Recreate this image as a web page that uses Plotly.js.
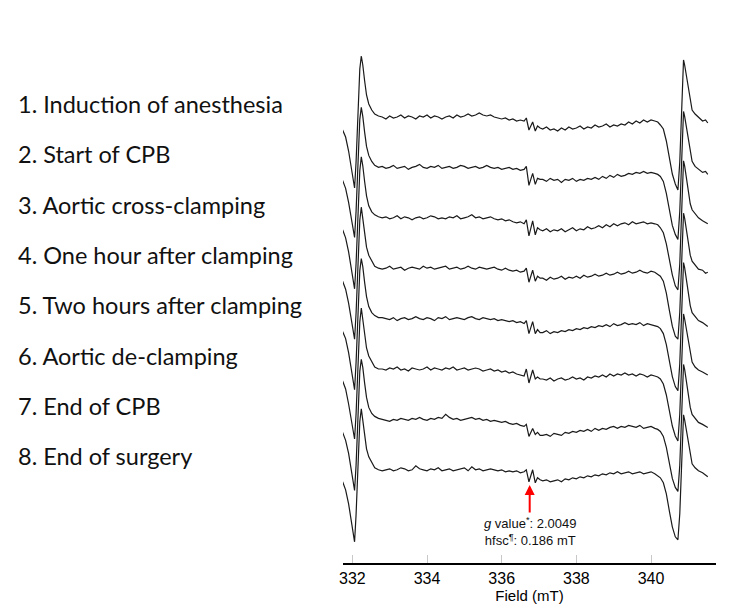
<!DOCTYPE html>
<html>
<head>
<meta charset="utf-8">
<script src="https://cdn.plot.ly/plotly-3.0.1.min.js"></script>
<style>html,body{margin:0;padding:0;background:#fff;}#chart{width:750px;height:607px;}</style>
</head>
<body>
<div id="chart"></div>
<script>
// Magnetic field sample positions (mT)
const fieldMT = [
  331.74,331.82,331.90,331.98,332.03,332.06,332.10,332.14,332.20,332.24,332.28,332.33,332.38,332.44,332.52,332.60,332.70,
  332.8,332.9,333.0,333.1,333.2,333.3,333.4,333.5,333.6,333.7,333.8,333.9,334.0,334.1,334.2,334.3,334.4,334.5,334.6,334.7,
  334.8,334.9,335.0,335.1,335.2,335.3,335.4,335.5,335.6,335.7,335.8,335.9,336.0,336.1,336.2,336.3,336.4,336.5,336.6,
  336.66,336.73,336.83,336.90,336.96,337.03,
  337.1,337.2,337.3,337.4,337.5,337.6,337.7,337.8,337.9,338.0,338.1,338.2,338.3,338.4,338.5,338.6,338.7,338.8,338.9,339.0,
  339.1,339.2,339.3,339.4,339.5,339.6,339.7,339.8,339.9,340.0,340.1,
  340.18,340.25,340.33,340.41,340.49,340.57,340.65,340.72,340.77,340.81,340.85,340.87,340.90,340.94,341.00,341.05,341.10,341.18,341.27,341.38,341.46,341.52
];

const stageLabels = [
  "1. Induction of anesthesia",
  "2. Start of CPB",
  "3. Aortic cross-clamping",
  "4. One hour after clamping",
  "5. Two hours after clamping",
  "6. Aortic de-clamping",
  "7. End of CPB",
  "8. End of surgery"
];

// EPR signal intensity (a.u.) for each stage
const sig1 = [
  -13,-20,-34,-52,-66,-71,-45,0,48,61,52,36,22,13,7,3,1,
  0,-2,1,-1,0,2,-1,1,0,-2,1,0,2,-1,1,0,-2,0,1,-1,2,0,1,3,1,2,4,2,1,2,0,-1,-2,-1,-3,-2,-4,-3,-4,
  -1,-13,-5,-14,-9,-11,
  -12,-10,-13,-12,-14,-11,-13,-10,-12,-11,-9,-12,-10,-11,-8,-10,-9,-7,-10,-8,-9,-7,-8,-5,-7,-4,-6,-3,-5,-3,-4,
  -5,-8,-12,-24,-41,-57,-67,-73,-45,5,45,57,52,43,27,14,7,3,0,-4,-3,-6
];
const sig2 = [
  -13,-21,-35,-53,-66,-70,-44,1,48,60,51,35,21,12,6,2,0,
  1,-1,0,2,-1,0,1,-2,0,1,3,0,-1,1,0,2,-1,0,1,-1,0,2,1,-1,0,1,-1,0,2,0,-1,0,-2,-1,0,-2,-1,-3,-2,
  1,-18,-6,-17,-11,-12,
  -12,-14,-11,-13,-12,-15,-12,-13,-11,-14,-12,-13,-11,-12,-10,-12,-9,-11,-8,-10,-7,-9,-8,-6,-7,-5,-6,-4,-6,-5,-6,
  -7,-9,-14,-26,-43,-58,-67,-72,-44,4,44,56,51,42,26,13,6,1,-2,-5,-4,-7
];
const sig3 = [
  -12,-20,-34,-52,-65,-71,-46,0,47,61,52,36,22,12,6,3,1,
  0,1,-1,0,2,-1,1,0,-2,0,1,-1,0,2,1,-1,0,-1,1,0,2,-1,0,1,3,0,1,-1,0,1,-1,-2,-1,-3,-2,-4,-5,-4,-6,
  -2,-18,-3,-17,-10,-12,
  -13,-11,-14,-12,-13,-11,-14,-12,-10,-13,-11,-12,-9,-11,-10,-8,-10,-7,-9,-6,-8,-6,-5,-7,-4,-6,-5,-4,-6,-5,-6,
  -7,-10,-15,-26,-42,-57,-68,-72,-46,3,45,57,52,42,27,14,8,4,0,-3,-5,-6
];
const sig4 = [
  -13,-21,-35,-52,-66,-71,-45,0,48,61,51,35,21,13,7,2,0,
  -1,0,2,-1,0,1,-2,0,1,0,-1,2,0,1,-1,0,1,2,-1,0,1,-1,0,2,0,-1,1,0,-1,0,1,-1,-2,0,-2,-3,-2,-4,-3,
  0,-14,-2,-13,-8,-10,
  -10,-12,-9,-11,-10,-8,-11,-9,-10,-8,-10,-7,-9,-8,-6,-8,-7,-5,-7,-6,-4,-6,-5,-3,-5,-4,-2,-4,-5,-3,-4,
  -6,-8,-13,-25,-42,-58,-68,-71,-44,4,44,55,50,41,25,13,7,3,-1,-2,-5,-4
];
const sig5 = [
  -13,-20,-34,-53,-67,-71,-44,1,48,60,52,36,22,12,6,3,1,
  1,0,-1,1,-2,0,1,-1,0,2,0,-1,1,0,-2,1,0,2,-1,0,1,0,-1,1,2,0,-1,1,0,-1,0,-2,-1,-2,-3,-2,-4,-3,-5,
  -2,-15,-3,-15,-11,-14,
  -14,-12,-15,-13,-14,-12,-13,-11,-12,-10,-11,-9,-10,-8,-9,-7,-8,-6,-8,-5,-7,-6,-4,-6,-5,-6,-4,-7,-5,-6,-7,
  -8,-10,-15,-26,-43,-58,-68,-72,-45,4,44,56,51,41,26,13,6,2,-2,-4,-6,-8
];
const sig6 = [
  -12,-20,-35,-52,-66,-70,-45,0,47,61,51,35,21,13,7,2,0,
  0,-1,1,0,2,-1,0,-2,1,0,-1,0,2,-1,1,0,-1,1,0,2,-1,0,1,-1,0,1,0,-2,-1,0,-2,-1,-3,-2,-4,-3,-5,-6,-7,
  0,-14,-1,-10,-8,-10,
  -10,-11,-9,-12,-10,-9,-11,-10,-8,-10,-9,-11,-8,-9,-7,-8,-6,-8,-5,-7,-5,-6,-4,-6,-5,-7,-5,-6,-8,-6,-7,
  -8,-10,-15,-26,-42,-57,-67,-72,-45,4,44,55,50,41,26,14,7,2,-1,-3,-5,-6
];
const sig7 = [
  -13,-21,-34,-52,-66,-71,-46,0,48,60,52,36,22,12,6,3,1,
  0,-1,-2,0,-1,1,0,-1,1,0,2,0,-1,1,0,2,1,5,2,0,1,-1,0,1,2,0,1,-1,0,-2,-1,-2,-3,-2,-4,-5,-4,-6,-7,
  -5,-17,-9,-15,-13,-16,
  -16,-15,-17,-14,-15,-16,-13,-14,-12,-13,-11,-12,-10,-12,-9,-11,-9,-10,-8,-7,-9,-7,-8,-6,-7,-8,-6,-9,-8,-7,-9,
  -10,-12,-17,-28,-44,-59,-68,-72,-46,3,43,55,50,40,25,12,5,1,-3,-5,-7,-8
];
const sig8 = [
  -12,-20,-34,-53,-67,-72,-45,0,48,61,51,35,21,13,7,2,0,
  -1,0,1,-1,0,2,1,-1,0,4,1,0,-1,1,0,2,-1,0,1,-1,0,1,2,-1,3,0,1,-1,0,1,0,-1,0,-2,-1,-2,-1,-3,-2,
  0,-12,0,-13,-8,-10,
  -11,-10,-12,-11,-10,-12,-9,-10,-8,-9,-7,-8,-6,-7,-5,-6,-4,-5,-3,-4,-2,-4,-3,-2,-4,-3,-2,-4,-3,-2,-4,
  -6,-8,-13,-24,-41,-57,-67,-70,-44,4,43,55,50,41,26,13,6,2,-1,-3,-5,-7
];

const gValueField = 336.75;   // radical signal position (mT)
const gValueText = "<i>g</i> value<sup>*</sup>: 2.0049";
const hfscText = "hfsc<sup>¶</sup>: 0.186 mT";
const xTicks = [332, 334, 336, 338, 340];

const signals = [sig1, sig2, sig3, sig4, sig5, sig6, sig7, sig8];
const STACK = 50.4; // vertical spacing between stacked spectra
const traces = signals.map((s, i) => ({
  type: 'scatter', mode: 'lines',
  x: fieldMT,
  y: s.map(v => v - STACK * i),
  line: {color: '#1a1a1a', width: 1.2},
  hoverinfo: 'skip', showlegend: false
}));

const annotations = stageLabels.map((t, i) => ({
  xref: 'paper', yref: 'paper',
  x: -0.877, y: (563 - (104 + 50.3 * i)) / 523,
  xanchor: 'left', yanchor: 'middle',
  text: t, showarrow: false,
  font: {family: 'Lato, Noto Sans, sans-serif', size: 23.5, color: '#111'}
}));
annotations.push({
  xref: 'x', yref: 'y', x: gValueField, y: -368,
  ax: 0, ay: 29, text: '', showarrow: true,
  arrowhead: 2, arrowsize: 1, arrowwidth: 2, arrowcolor: '#ff0000'
});
annotations.push({
  xref: 'x', yref: 'paper', x: gValueField, y: (563 - 531) / 523,
  xanchor: 'center', yanchor: 'middle', showarrow: false,
  text: gValueText + '<br>' + hfscText, align: 'center',
  font: {family: 'Liberation Sans, Arial, sans-serif', size: 13, color: '#111'}
});

const layout = {
  width: 750, height: 607,
  margin: {l: 343, r: 34, t: 40, b: 44},
  paper_bgcolor: '#fff', plot_bgcolor: '#fff',
  xaxis: {
    range: [331.75, 341.74], tickvals: xTicks, ticktext: xTicks.map(String),
    ticks: 'inside', ticklen: 8, tickcolor: '#c8c8c8', tickwidth: 1,
    showline: true, linecolor: '#000', linewidth: 1.5,
    showgrid: false, zeroline: false,
    tickfont: {family: 'Liberation Sans, Arial, sans-serif', size: 16, color: '#000'},
    title: {text: 'Field (mT)', font: {family: 'Liberation Sans, Arial, sans-serif', size: 15, color: '#000'}, standoff: 4}
  },
  yaxis: {range: [-446, 77], visible: false, showgrid: false, zeroline: false},
  annotations: annotations
};

Plotly.newPlot('chart', traces, layout, {displayModeBar: false, staticPlot: true});
</script>
</body>
</html>
